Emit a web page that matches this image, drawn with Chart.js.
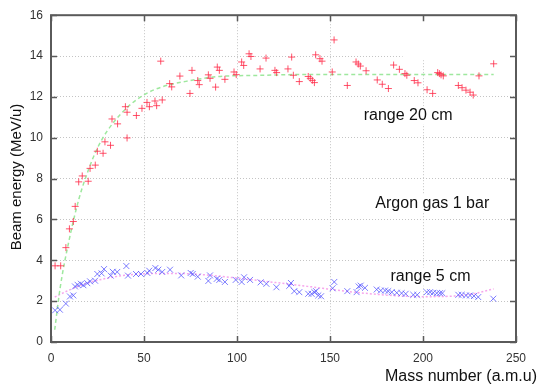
<!DOCTYPE html>
<html>
<head>
<meta charset="utf-8">
<script src="https://cdn.jsdelivr.net/npm/chart.js@4.4.1/dist/chart.umd.min.js"></script>
<style>
  html, body { margin: 0; padding: 0; background: #fff; }
  #wrap { width: 538px; height: 385px; }
</style>
</head>
<body>
<div id="wrap"><canvas id="chart" width="538" height="385"></canvas></div>
<script>
// range 20 cm measurements (red +)
const redMass = [2.2, 5.2, 8, 9.9, 12, 13, 14.9, 16.8, 20, 21, 23.8, 24.9, 28, 29, 32, 32.8, 35.8, 40, 40.9, 40.9,
  45.9, 48.9, 51.6, 52.9, 55.9, 56.8, 59.8, 59, 63.8, 64.9, 69.3, 74.7, 75.8, 78.9, 79.7, 84.6, 85.5, 88.5, 89.4, 90.5,
  93.5, 98.4, 99.6, 102.5, 103.6, 106.5, 107.5, 112.4, 115.6, 120.4, 121.3, 127.4, 129.4, 130.3, 133.5, 138.3, 139.4,
  140.5, 141.6, 142.3, 144.6, 145.7, 151.2, 152.2, 159.3, 164, 165.2, 166.3, 169.4, 175.4, 178.1, 181.4, 184.2, 187.3,
  190.3, 191.3, 195.3, 197.3, 202.2, 205.2, 207.9, 208.8, 209.7, 210.9, 219, 221, 223.1, 225.3, 227, 230.1, 238];
const redEnergy = [3.73, 3.73, 4.62, 5.54, 5.9, 6.64, 7.84, 8.13, 7.87, 8.5, 8.66, 9.34, 9.24, 9.8, 9.63, 10.92, 10.68, 11.52, 11.25, 9.99,
  11.09, 11.44, 11.73, 11.52, 11.8, 11.57, 11.85, 13.75, 12.65, 12.49, 13.02, 12.17, 13.3, 12.8, 12.6, 13.08, 12.91, 12.48, 13.46, 13.3,
  12.86, 13.22, 13.09, 13.71, 13.54, 14.11, 13.98, 13.37, 13.9, 13.3, 13.19, 13.37, 13.95, 13.06, 12.75, 13.0, 12.91,
  12.81, 12.7, 14.06, 13.87, 13.75, 13.22, 14.79, 12.56, 13.71, 13.61, 13.51, 13.28, 12.83, 12.62, 12.41, 13.56, 13.35,
  13.14, 13.06, 12.8, 12.69, 12.35, 12.17, 13.19, 13.14, 13.08, 13.03, 12.56, 12.45, 12.33, 12.23, 12.09, 13.03, 13.62];

// range 5 cm measurements (blue x)
const blueMass = [2.2, 4.8, 8, 10.2, 12, 12.9, 14.3, 16.1, 17.4, 19.5, 21, 23.7, 24.9, 27.2, 28.5, 32.1, 33.2, 35.6, 40.5, 41.4,
  45.7, 48.4, 51.8, 52.8, 56.1, 57.7, 59.8, 64, 70, 75.1, 76.2, 78.9, 84.6, 85.5, 89.1, 90.5, 93.5, 99.3, 102.5, 103.8,
  107, 112.7, 115.8, 121.2, 128.1, 129, 130.8, 133.5, 138.3, 140.1, 141.6, 142.5, 143.7, 145.2, 151.4, 152.3, 159.3,
  164.3, 165.4, 166.5, 168.8, 175.1, 177.3, 179.6, 181.3, 183.2, 185.9, 188.5, 190.7, 194.8, 196.9, 202, 203.8, 205.5,
  207.4, 209.1, 210.4, 219, 220.8, 223.1, 225.3, 227.4, 229.7, 237.8];
const blueEnergy = [1.55, 1.58, 1.88, 2.23, 2.28, 2.72, 2.8, 2.85, 2.78, 2.88, 2.97, 3.0, 3.33, 3.36, 3.57, 3.25, 3.44, 3.43, 3.72, 3.25,
  3.33, 3.33, 3.38, 3.49, 3.62, 3.54, 3.43, 3.54, 3.26, 3.38, 3.33, 3.2, 2.99, 3.26, 3.09, 3.04, 2.94, 3.04, 2.94, 3.17,
  3.04, 2.92, 2.85, 2.68, 2.75, 2.89, 2.49, 2.44, 2.36, 2.36, 2.44, 2.49, 2.28, 2.24, 2.63, 2.94, 2.49,
  2.44, 2.72, 2.76, 2.65, 2.57, 2.52, 2.52, 2.49, 2.44, 2.41, 2.39, 2.36, 2.31, 2.31, 2.44, 2.44, 2.41,
  2.39, 2.39, 2.39, 2.31, 2.31, 2.28, 2.28, 2.25, 2.2, 2.12];

// fitted curves
const fit20Mass = [2, 5, 10, 15, 20, 25, 30, 40, 50, 60, 75, 90, 110, 140, 180, 238];
const fit20Energy = [0.6, 2.7, 5.1, 7.0, 8.4, 9.5, 10.3, 11.4, 12.1, 12.5, 12.8, 13.0, 13.05, 13.1, 13.1, 13.1];
const fit5Mass = [2, 10, 20, 30, 40, 55, 70, 85, 100, 120, 140, 160, 180, 200, 215, 228, 238];
const fit5Energy = [2.2, 2.55, 2.9, 3.12, 3.27, 3.35, 3.35, 3.27, 3.13, 2.92, 2.7, 2.47, 2.3, 2.22, 2.24, 2.38, 2.6];

const xTickValues = [0, 50, 100, 150, 200, 250];
const yTickValues = [0, 2, 4, 6, 8, 10, 12, 14, 16];

const FONT = "'Liberation Sans', Arial, sans-serif";

function pairs(xs, ys) { return xs.map((x, i) => ({ x: x, y: ys[i] })); }

const decorPlugin = {
  id: 'decor',
  beforeDatasetsDraw(chart) {
    const ctx = chart.ctx, xs = chart.scales.x, ys = chart.scales.y;
    ctx.save();
    // blank corner where the key box sits
    ctx.fillStyle = '#fff';
    const kx = xs.getPixelForValue(189), ky = ys.getPixelForValue(13.8);
    ctx.fillRect(kx, chart.chartArea.top, chart.chartArea.right - kx, ky - chart.chartArea.top);
    // in-plot labels
    ctx.font = '16px ' + FONT;
    ctx.textAlign = 'center';
    ctx.textBaseline = 'middle';
    const labels = [['range 20 cm', 192, 11.1], ['Argon gas 1 bar', 205, 6.8], ['range 5 cm', 204, 3.2]];
    labels.forEach(l => {
      const px = xs.getPixelForValue(l[1]), py = ys.getPixelForValue(l[2]);
      const w = ctx.measureText(l[0]).width;
      ctx.fillStyle = '#fff';
      ctx.fillRect(px - w / 2 - 2, py - 9, w + 4, 18);
      ctx.fillStyle = '#111';
      ctx.fillText(l[0], px, py);
    });
    ctx.restore();
  },
  afterDraw(chart) {
    const ctx = chart.ctx, a = chart.chartArea, xs = chart.scales.x, ys = chart.scales.y;
    ctx.save();
    ctx.strokeStyle = '#5a5a5a';
    ctx.lineWidth = 1.5;
    // inward ticks on all four sides
    ctx.beginPath();
    xTickValues.forEach(v => {
      const px = Math.round(xs.getPixelForValue(v)) + 0.5;
      ctx.moveTo(px, a.bottom); ctx.lineTo(px, a.bottom - 6);
      ctx.moveTo(px, a.top); ctx.lineTo(px, a.top + 6);
    });
    yTickValues.forEach(v => {
      const py = Math.round(ys.getPixelForValue(v)) + 0.5;
      ctx.moveTo(a.left, py); ctx.lineTo(a.left + 6, py);
      ctx.moveTo(a.right, py); ctx.lineTo(a.right - 6, py);
    });
    ctx.stroke();
    ctx.lineWidth = 2;
    ctx.strokeRect(a.left, a.top, a.right - a.left, a.bottom - a.top);

    // axis titles
    ctx.fillStyle = '#111';
    ctx.font = '16px ' + FONT;
    ctx.textAlign = 'right';
    ctx.textBaseline = 'middle';
    ctx.fillText('Mass number (a.m.u)', 537, 377);
    ctx.translate(17, 177);
    ctx.rotate(-Math.PI / 2);
    ctx.textAlign = 'center';
    ctx.font = '15px ' + FONT;
    ctx.fillText('Beam energy (MeV/u)', 0, 0);
    ctx.restore();
  }
};

new Chart(document.getElementById('chart').getContext('2d'), {
  type: 'scatter',
  data: {
    datasets: [
      {
        label: 'range 20 cm',
        data: pairs(redMass, redEnergy),
        pointStyle: 'cross',
        pointRadius: 3.5,
        pointHoverRadius: 3.5,
        borderWidth: 1,
        borderColor: 'rgba(255,40,70,0.8)',
        backgroundColor: 'rgba(255,40,70,0.8)',
        order: 1
      },
      {
        label: 'range 5 cm',
        data: pairs(blueMass, blueEnergy),
        pointStyle: 'crossRot',
        pointRadius: 4.2,
        pointHoverRadius: 4.2,
        borderWidth: 1,
        borderColor: 'rgba(80,80,255,0.75)',
        backgroundColor: 'rgba(80,80,255,0.75)',
        order: 2
      },
      {
        label: 'fit 20 cm',
        data: pairs(fit20Mass, fit20Energy),
        showLine: true,
        pointRadius: 0,
        borderColor: '#9ee89e',
        borderWidth: 1.5,
        borderDash: [4, 3],
        cubicInterpolationMode: 'monotone',
        fill: false,
        order: 3
      },
      {
        label: 'fit 5 cm',
        data: pairs(fit5Mass, fit5Energy),
        showLine: true,
        pointRadius: 0,
        borderColor: '#f7a6ec',
        borderWidth: 1.5,
        borderDash: [2, 2],
        cubicInterpolationMode: 'monotone',
        fill: false,
        order: 4
      }
    ]
  },
  options: {
    responsive: false,
    animation: false,
    events: [],
    layout: { padding: { top: 12, right: 22, left: 0, bottom: 0 } },
    plugins: { legend: { display: false }, tooltip: { enabled: false } },
    scales: {
      x: {
        type: 'linear',
        min: xTickValues[0],
        max: xTickValues[xTickValues.length - 1],
        afterBuildTicks: s => { s.ticks = xTickValues.map(v => ({ value: v })); },
        afterFit: s => { s.height = 43; },
        ticks: { color: '#333', font: { family: FONT, size: 12 }, padding: 9, maxRotation: 0 },
        grid: { color: '#c4c4c4', lineWidth: 1, drawTicks: false },
        border: { display: false, dash: [1, 2] }
      },
      y: {
        type: 'linear',
        min: yTickValues[0],
        max: yTickValues[yTickValues.length - 1],
        afterBuildTicks: s => { s.ticks = yTickValues.map(v => ({ value: v })); },
        afterFit: s => { s.width = 51; },
        ticks: { color: '#333', font: { family: FONT, size: 12 }, padding: 8 },
        grid: { color: '#c4c4c4', lineWidth: 1, drawTicks: false },
        border: { display: false, dash: [1, 2] }
      }
    }
  },
  plugins: [decorPlugin]
});
</script>
</body>
</html>
